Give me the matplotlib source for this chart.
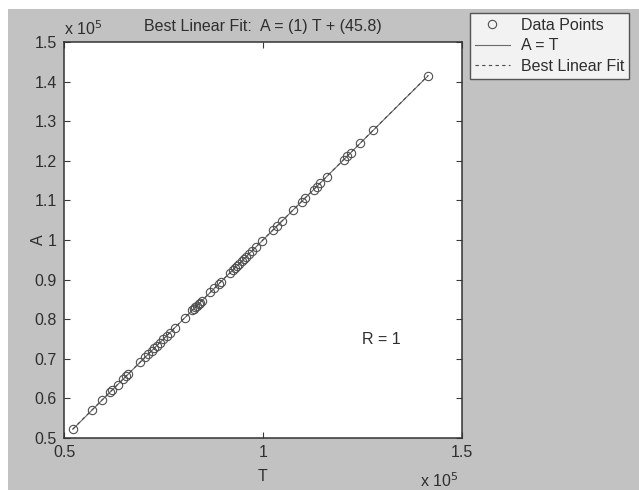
import matplotlib
matplotlib.use("Agg")
import matplotlib.pyplot as plt
from matplotlib.patches import Rectangle
from matplotlib.ticker import FuncFormatter
import numpy as np

# Targets (T) and network outputs (A), in absolute units
targets = [52200, 57100, 59600, 61600, 62100, 63500, 64900, 65700, 66200,
           69100, 70400, 71200, 72000, 72700, 73300, 74100, 74900, 75800,
           76600, 77900, 80400, 82200, 82600, 83000, 83400, 83800, 84200,
           84600, 86800, 87800, 88900, 89500, 91700, 92400, 93000, 93500,
           94000, 94600, 95200, 95800, 96500, 97200, 98200, 99700, 102500,
           103500, 104800, 107600, 109700, 110500, 112700, 113500, 114300,
           116000, 120300, 121200, 122000, 124400, 127700, 141500]
outputs = [52200, 57100, 59600, 61600, 62100, 63500, 64900, 65700, 66200,
           69100, 70400, 71200, 72000, 72700, 73300, 74100, 74900, 75800,
           76600, 77900, 80400, 82200, 82600, 83000, 83400, 83800, 84200,
           84600, 86800, 87800, 88900, 89500, 91700, 92400, 93000, 93500,
           94000, 94600, 95200, 95800, 96500, 97200, 98200, 99700, 102500,
           103500, 104800, 107600, 109700, 110500, 112700, 113500, 114300,
           116000, 120300, 121200, 122000, 124400, 127700, 141500]
fit_slope = 1.0
fit_intercept = 45.8
r_value = 1

x_ticks = [50000, 100000, 150000]
y_ticks = [50000, 60000, 70000, 80000, 90000, 100000, 110000, 120000,
           130000, 140000, 150000]

FONT = "Liberation Sans"
TXT = "#2e2e2e"
plt.rcParams["font.family"] = [FONT, "DejaVu Sans"]

W, H = 639, 490
fig = plt.figure(figsize=(W / 100, H / 100), dpi=100)
fig.patch.set_facecolor("white")
fig.patches.append(Rectangle((8 / W, 0), 1, 1 - 9 / H, transform=fig.transFigure,
                             facecolor="#c2c2c2", edgecolor="none", zorder=-10))

ax = fig.add_axes([64 / W, 1 - 438 / H, 398 / W, 396 / H])
ax.set_facecolor("white")

t = np.array(targets, dtype=float)
a = np.array(outputs, dtype=float)
lo = min(t.min(), a.min())
hi = max(t.max(), a.max())
ends = np.array([lo, hi])

ax.plot(t, a, "o", mfc="none", mec="#505050", ms=6.0, mew=0.8,
        label="Data Points", zorder=3)
ax.plot(ends, ends, "-", color="#6a6a6a", lw=0.8, label="A = T", zorder=2)
ax.plot(ends, ends * fit_slope + fit_intercept, "--", color="#4a4a4a",
        lw=0.8, dashes=(3, 3), label="Best Linear Fit", zorder=2)

ax.set_xlim(50000, 150000)
ax.set_ylim(50000, 150000)
ax.set_xticks(x_ticks)
ax.set_yticks(y_ticks)
fmt = FuncFormatter(lambda v, p: f"{v / 1e5:g}")
ax.xaxis.set_major_formatter(fmt)
ax.yaxis.set_major_formatter(fmt)
ax.tick_params(direction="in", length=4, width=0.8, colors="#3a3a3a",
               labelcolor=TXT, labelsize=11.5, top=True, right=True, pad=5)
for s in ax.spines.values():
    s.set_color("#333333")
    s.set_linewidth(1.1)

ax.text(125000, 75000, f"R = {r_value}", fontsize=11.5, color=TXT,
        ha="left", va="center")

fig.text(64 / W, 1 - 35 / H, r"x 10$^{5}$", fontsize=11.5, color=TXT,
         ha="left", va="baseline")
fig.text(420 / W, 1 - 487 / H, r"x 10$^{5}$", fontsize=11.5, color=TXT,
         ha="left", va="baseline")
fig.text(263 / W, 1 - 31 / H, "Best Linear Fit:  A = (1) T + (45.8)",
         fontsize=11.5, color=TXT, ha="center", va="baseline")
fig.text(263 / W, 1 - 481 / H, "T", fontsize=11.5, color=TXT,
         ha="center", va="baseline")
fig.text(38 / W, 1 - 240 / H, "A", fontsize=11.5, color=TXT,
         ha="center", va="center", rotation=90)

leg = fig.legend(loc="upper left", bbox_to_anchor=(470 / W, 1 - 13 / H),
                 bbox_transform=fig.transFigure, fontsize=11.5, frameon=True,
                 fancybox=False, borderpad=0.3, labelspacing=0.35,
                 handlelength=2.2, handletextpad=0.7, borderaxespad=0)
leg.get_frame().set_edgecolor("#333333")
leg.get_frame().set_linewidth(1.0)
for txt in leg.get_texts():
    txt.set_color(TXT)

fig.savefig("out.png", dpi=100, facecolor=fig.get_facecolor())
